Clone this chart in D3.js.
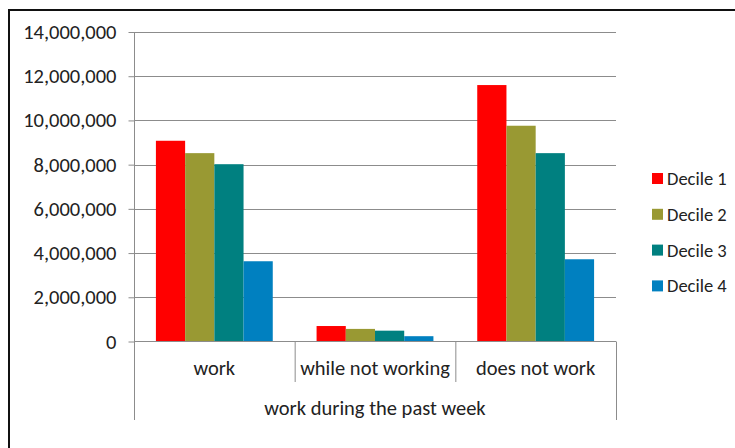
<!DOCTYPE html>
<html>
<head>
<meta charset="utf-8">
<script src="https://cdn.jsdelivr.net/npm/d3@7"></script>
<style>
  body { margin: 0; background: #fff; }
  text { font-family: Calibri, Carlito, "Open Sans", sans-serif; fill: #222; }
</style>
</head>
<body>
<svg id="chart" width="735" height="448"></svg>
<script>
const categories = ['work', 'while not working', 'does not work'];
const seriesNames = ['Decile 1', 'Decile 2', 'Decile 3', 'Decile 4'];
const decile1 = [9080000, 700000, 11600000];
const decile2 = [8520000, 570000, 9760000];
const decile3 = [8020000, 490000, 8520000];
const decile4 = [3630000, 240000, 3720000];
const yTicks = [0, 2000000, 4000000, 6000000, 8000000, 10000000, 12000000, 14000000];
const groupTitle = 'work during the past week';
const colors = ['#ff0000', '#999933', '#008080', '#0080c0'];

const values = [decile1, decile2, decile3, decile4];
const fontSize = '20.5px';
const legendFontSize = '18.5px';

const svg = d3.select('#chart');
const plot = {left: 134, right: 616, top: 32, bottom: 341.5};

// outer frame, runs off the right and bottom edges like the original
svg.append('rect')
    .attr('x', 9).attr('y', 10)
    .attr('width', 740).attr('height', 450)
    .attr('fill', 'none')
    .attr('stroke', '#111')
    .attr('stroke-width', 2);

const x0 = d3.scaleBand()
    .domain(categories)
    .range([plot.left, plot.right]);

const x1 = d3.scaleBand()
    .domain(seriesNames)
    .range([0, x0.bandwidth()])
    .paddingOuter(0.75)
    .paddingInner(0);

const y = d3.scaleLinear()
    .domain([0, 14000000])
    .range([plot.bottom, plot.top]);

// gridlines
svg.append('g')
    .selectAll('line')
    .data(yTicks.slice(1))
    .enter().append('line')
    .attr('x1', plot.left).attr('x2', plot.right)
    .attr('y1', d => Math.round(y(d)) + 0.5)
    .attr('y2', d => Math.round(y(d)) + 0.5)
    .attr('stroke', '#8c8c8c')
    .attr('stroke-width', 1.2);

// y axis
const yAxis = d3.axisLeft(y)
    .tickValues(yTicks)
    .tickSize(6)
    .tickPadding(12)
    .tickFormat(d3.format(','));

const yg = svg.append('g')
    .attr('transform', 'translate(' + (plot.left + 0.5) + ',0)')
    .call(yAxis);
yg.selectAll('.tick line').attr('stroke', '#8c8c8c');
yg.select('.domain').attr('stroke', '#8c8c8c').attr('d', 'M0,' + plot.top + 'V' + plot.bottom);
yg.selectAll('text')
    .style('font-family', 'Calibri, Carlito, "Open Sans", sans-serif')
    .style('font-size', fontSize)
    .attr('fill', '#222');

// bars
const groups = svg.append('g')
    .selectAll('g')
    .data(categories)
    .enter().append('g')
    .attr('transform', d => 'translate(' + x0(d) + ',0)');

groups.selectAll('rect')
    .data((c, i) => seriesNames.map((s, j) => ({series: s, value: values[j][i], idx: j})))
    .enter().append('rect')
    .attr('x', d => x1(d.series))
    .attr('width', x1.bandwidth())
    .attr('y', d => y(d.value))
    .attr('height', d => y(0) - y(d.value))
    .attr('fill', d => colors[d.idx]);

// category axis
const axisColor = '#8c8c8c';
svg.append('line')
    .attr('x1', plot.left).attr('x2', plot.right)
    .attr('y1', plot.bottom).attr('y2', plot.bottom)
    .attr('stroke', axisColor).attr('stroke-width', 1.2);

const dividers = categories.slice(1).map(c => x0(c));
svg.append('g')
    .selectAll('line')
    .data(dividers)
    .enter().append('line')
    .attr('x1', d => d + 0.5).attr('x2', d => d + 0.5)
    .attr('y1', plot.bottom).attr('y2', 382)
    .attr('stroke', axisColor);

svg.append('g')
    .selectAll('line')
    .data([plot.left, plot.right])
    .enter().append('line')
    .attr('x1', d => d + 0.5).attr('x2', d => d + 0.5)
    .attr('y1', plot.bottom).attr('y2', 420)
    .attr('stroke', axisColor);

svg.append('g')
    .selectAll('text')
    .data(categories)
    .enter().append('text')
    .attr('x', d => x0(d) + x0.bandwidth() / 2)
    .attr('y', 368)
    .attr('dy', '0.35em')
    .attr('text-anchor', 'middle')
    .style('font-size', fontSize)
    .text(d => d);

svg.append('text')
    .attr('x', (plot.left + plot.right) / 2)
    .attr('y', 408)
    .attr('dy', '0.35em')
    .attr('text-anchor', 'middle')
    .style('font-size', fontSize)
    .text(groupTitle);

// legend
const legend = svg.append('g')
    .selectAll('g')
    .data(seriesNames)
    .enter().append('g')
    .attr('transform', (d, i) => 'translate(652,' + (178.5 + i * 35.8) + ')');

legend.append('rect')
    .attr('x', 0).attr('y', -5.5)
    .attr('width', 11).attr('height', 11)
    .attr('fill', (d, i) => colors[i]);

legend.append('text')
    .attr('x', 15)
    .attr('dy', '0.35em')
    .style('font-size', legendFontSize)
    .text(d => d);
</script>
</body>
</html>
